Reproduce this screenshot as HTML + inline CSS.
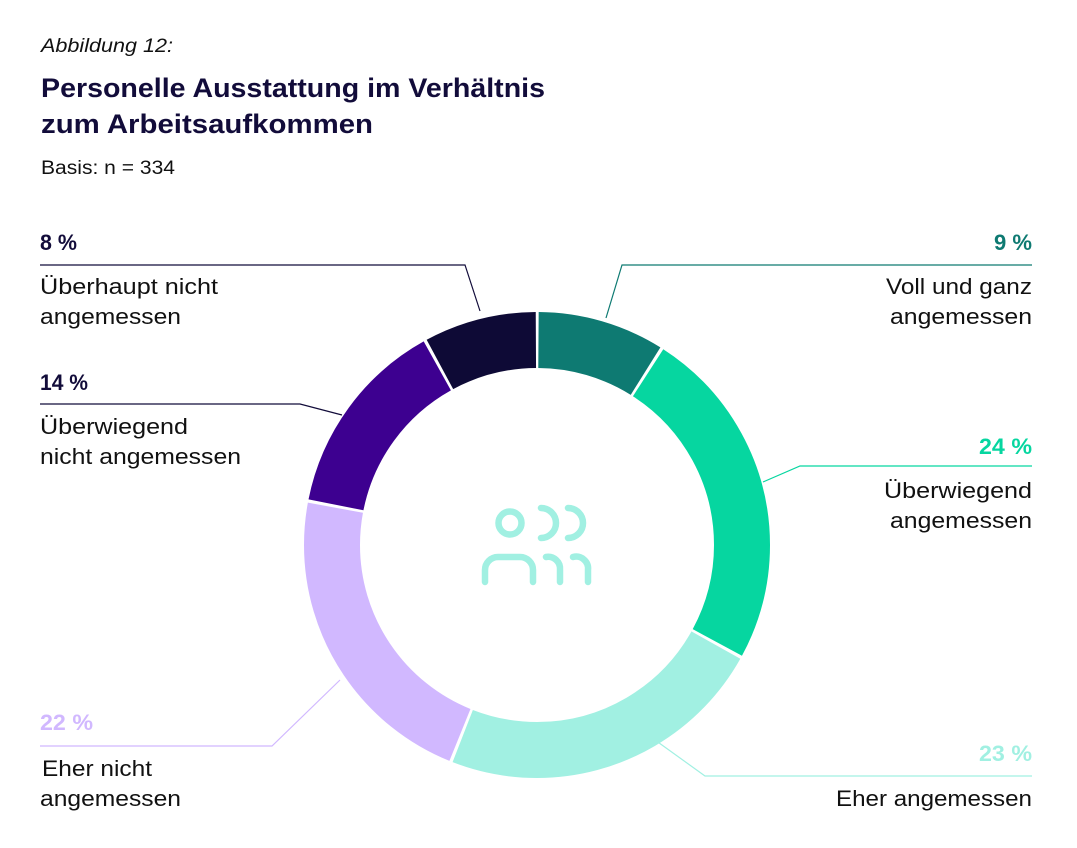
<!DOCTYPE html>
<html><head><meta charset="utf-8"><style>
html,body{margin:0;padding:0;background:#fff;}
svg{display:block;font-family:"Liberation Sans",sans-serif;}
</style></head><body>
<svg width="1077" height="848" viewBox="0 0 1077 848" xmlns="http://www.w3.org/2000/svg">
<text x="41" y="52" font-size="19" font-style="italic" fill="#111" textLength="132" lengthAdjust="spacingAndGlyphs">Abbildung 12:</text>
<text x="41" y="97" font-size="27" font-weight="bold" fill="#120c3a" textLength="504" lengthAdjust="spacingAndGlyphs">Personelle Ausstattung im Verhältnis</text>
<text x="41" y="133" font-size="27" font-weight="bold" fill="#120c3a" textLength="332" lengthAdjust="spacingAndGlyphs">zum Arbeitsaufkommen</text>
<text x="41" y="174" font-size="19" fill="#111" textLength="134" lengthAdjust="spacingAndGlyphs">Basis: n = 334</text>

<g transform="rotate(-90 537 545)" fill="none" stroke-width="56">
<circle cx="537" cy="545" r="205" stroke="#0e7a72" stroke-dasharray="112.9 1288.05" stroke-dashoffset="-1.5"/>
<circle cx="537" cy="545" r="205" stroke="#06d6a0" stroke-dasharray="306.1 1288.05" stroke-dashoffset="-117.4"/>
<circle cx="537" cy="545" r="205" stroke="#a1f0e2" stroke-dasharray="293.3 1288.05" stroke-dashoffset="-426.5"/>
<circle cx="537" cy="545" r="205" stroke="#d1b8ff" stroke-dasharray="280.4 1288.05" stroke-dashoffset="-722.8"/>
<circle cx="537" cy="545" r="205" stroke="#3d0090" stroke-dasharray="177.3 1288.05" stroke-dashoffset="-1006.2"/>
<circle cx="537" cy="545" r="205" stroke="#0e0a36" stroke-dasharray="100 1288.05" stroke-dashoffset="-1186.5"/>
</g>

<g fill="none" stroke="#a1f0e2" stroke-width="6.5" stroke-linecap="round">
<circle cx="510" cy="523" r="11.5"/>
<path d="M541 508 A15 15 0 0 1 541 538"/>
<path d="M568 508 A15 15 0 0 1 568 538"/>
<path d="M485 582 V570 A13 13 0 0 1 498 557 H520 A13 13 0 0 1 533 570 V582"/>
<path d="M546 557 A12 12 0 0 1 560 570 V582"/>
<path d="M573 557 A12 12 0 0 1 588 570 V582"/>
</g>

<g fill="none" stroke-width="1.2">
<polyline points="40,265 465,265 480,311" stroke="#120c3a"/>
<polyline points="40,404 300,404 342,415" stroke="#120c3a"/>
<polyline points="40,746 272,746 340,680" stroke="#d1b8ff"/>
<polyline points="1032,265 622,265 606,318" stroke="#0e7a72"/>
<polyline points="1032,466 800,466 763,482" stroke="#06d6a0"/>
<polyline points="1032,776 705,776 655,740" stroke="#a1f0e2"/>
</g>

<g font-size="22.5">
<text x="40" y="250" font-weight="bold" fill="#120c3a" textLength="37" lengthAdjust="spacingAndGlyphs">8 %</text>
<text x="40" y="294" fill="#111" textLength="178" lengthAdjust="spacingAndGlyphs">Überhaupt nicht</text>
<text x="40" y="324" fill="#111" textLength="141" lengthAdjust="spacingAndGlyphs">angemessen</text>
<text x="40" y="390" font-weight="bold" fill="#120c3a" textLength="48" lengthAdjust="spacingAndGlyphs">14 %</text>
<text x="40" y="434" fill="#111" textLength="148" lengthAdjust="spacingAndGlyphs">Überwiegend</text>
<text x="40" y="464" fill="#111" textLength="201" lengthAdjust="spacingAndGlyphs">nicht angemessen</text>
<text x="40" y="730" font-weight="bold" fill="#d1b8ff" textLength="53" lengthAdjust="spacingAndGlyphs">22 %</text>
<text x="42" y="776" fill="#111" textLength="110" lengthAdjust="spacingAndGlyphs">Eher nicht</text>
<text x="40" y="806" fill="#111" textLength="141" lengthAdjust="spacingAndGlyphs">angemessen</text>
<text x="994" y="250" font-weight="bold" fill="#0e7a72" textLength="38" lengthAdjust="spacingAndGlyphs">9 %</text>
<text x="886" y="294" fill="#111" textLength="146" lengthAdjust="spacingAndGlyphs">Voll und ganz</text>
<text x="890" y="324" fill="#111" textLength="142" lengthAdjust="spacingAndGlyphs">angemessen</text>
<text x="979" y="454" font-weight="bold" fill="#06d6a0" textLength="53" lengthAdjust="spacingAndGlyphs">24 %</text>
<text x="884" y="498" fill="#111" textLength="148" lengthAdjust="spacingAndGlyphs">Überwiegend</text>
<text x="890" y="528" fill="#111" textLength="142" lengthAdjust="spacingAndGlyphs">angemessen</text>
<text x="979" y="761" font-weight="bold" fill="#a1f0e2" textLength="53" lengthAdjust="spacingAndGlyphs">23 %</text>
<text x="836" y="806" fill="#111" textLength="196" lengthAdjust="spacingAndGlyphs">Eher angemessen</text>
</g>
</svg>
</body></html>
